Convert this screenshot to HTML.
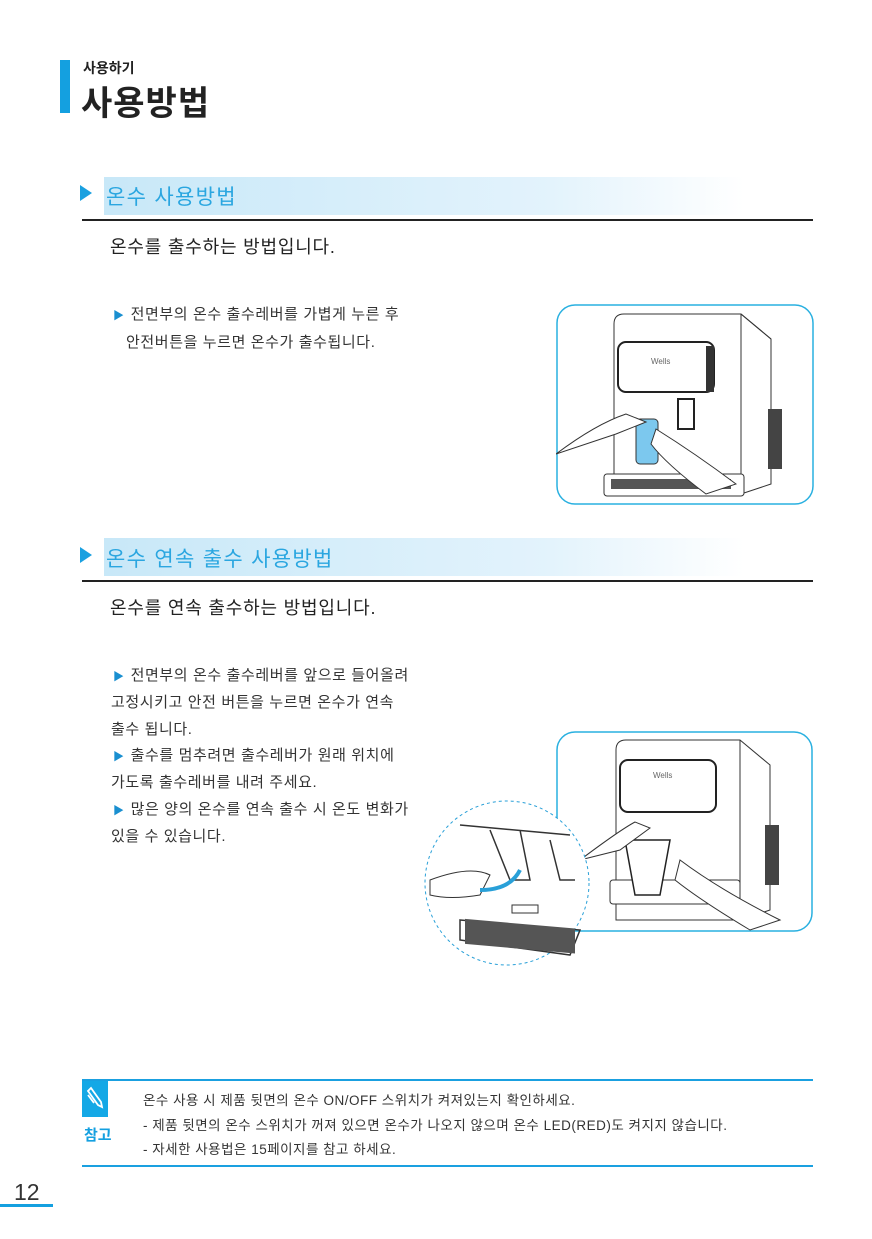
<!DOCTYPE html>
<html><head><meta charset="utf-8">
<style>
*{margin:0;padding:0;box-sizing:border-box}
body{width:872px;height:1239px;background:#fff;position:relative;overflow:hidden;font-family:"Liberation Sans","Noto Sans CJK KR","NanumGothic",sans-serif;color:#222}
.a{position:absolute;white-space:nowrap}
.band{position:absolute;left:104px;width:640px;height:38px;background:linear-gradient(90deg,#c8e8f8 0%,#e3f3fc 70%,#fff 100%)}
.tri{position:absolute;width:0;height:0;border-left:12px solid #1aa0e0;border-top:8px solid transparent;border-bottom:8px solid transparent}
.h2{font-size:21px;color:#2aa6e0;letter-spacing:1.3px}
.hr{position:absolute;left:82px;width:731px;height:2px;background:#222}
.sub{font-size:18px;color:#222;letter-spacing:0.8px}
.b{font-size:15px;color:#333;letter-spacing:0.6px}
.b i{font-style:normal;color:#1a8fd0;font-size:11px;margin-right:6px}
.n{font-size:13.5px;color:#333;letter-spacing:0.5px}
</style></head><body>
<div class="a" style="left:60px;top:60px;width:10px;height:53px;background:#14a0e0"></div>
<div class="a" style="left:83px;top:58px;font-size:14px;font-weight:bold">사용하기</div>
<div class="a" style="left:81px;top:76px;font-size:34px;font-weight:bold;letter-spacing:1px">사용방법</div>

<div class="band" style="top:177px"></div>
<div class="tri" style="left:80px;top:185px"></div>
<div class="a h2" style="left:106px;top:181px">온수 사용방법</div>
<div class="hr" style="top:219px"></div>
<div class="a sub" style="left:110px;top:233px">온수를 출수하는 방법입니다.</div>
<div class="a b" style="left:113px;top:303px"><i>▶</i>전면부의 온수 출수레버를 가볍게 누른 후</div>
<div class="a b" style="left:126px;top:331px">안전버튼을 누르면 온수가 출수됩니다.</div>

<svg class="a" style="left:556px;top:304px" width="258" height="201" viewBox="0 0 258 201">
<rect x="1" y="1" width="256" height="199" rx="18" fill="#fff" stroke="#29b0e0" stroke-width="1.5"/>
<path d="M58 190 V20 Q58 10 68 10 H185 L215 35 V180 L185 190 Z" fill="#fff" stroke="#333"/>
<path d="M185 10 L215 35 M185 10 V190" fill="none" stroke="#333"/>
<rect x="212" y="105" width="14" height="60" fill="#444"/>
<rect x="62" y="38" width="96" height="50" rx="8" fill="#fff" stroke="#222" stroke-width="2"/>
<rect x="150" y="42" width="8" height="46" fill="#333"/>
<text x="95" y="60" font-size="8" fill="#666">Wells</text>
<rect x="48" y="170" width="140" height="22" rx="3" fill="#fff" stroke="#333"/>
<rect x="55" y="175" width="120" height="10" fill="#555"/>
<rect x="80" y="115" width="22" height="45" rx="4" fill="#7cc8ee" stroke="#333"/>
<path d="M0 150 Q40 120 70 110 L90 118 L60 130 Z M100 125 Q140 150 180 180 L150 190 Q110 160 95 140 Z" fill="#fff" stroke="#333"/>
<rect x="122" y="95" width="16" height="30" fill="#fff" stroke="#222" stroke-width="2"/>
</svg>

<div class="band" style="top:538px"></div>
<div class="tri" style="left:80px;top:547px"></div>
<div class="a h2" style="left:106px;top:543px">온수 연속 출수 사용방법</div>
<div class="hr" style="top:580px"></div>
<div class="a sub" style="left:110px;top:594px">온수를 연속 출수하는 방법입니다.</div>
<div class="a b" style="left:113px;top:664px"><i>▶</i>전면부의 온수 출수레버를 앞으로 들어올려</div>
<div class="a b" style="left:111px;top:691px">고정시키고 안전 버튼을 누르면 온수가 연속</div>
<div class="a b" style="left:111px;top:718px">출수 됩니다.</div>
<div class="a b" style="left:113px;top:744px"><i>▶</i>출수를 멈추려면 출수레버가 원래 위치에</div>
<div class="a b" style="left:111px;top:771px">가도록 출수레버를 내려 주세요.</div>
<div class="a b" style="left:113px;top:798px"><i>▶</i>많은 양의 온수를 연속 출수 시 온도 변화가</div>
<div class="a b" style="left:111px;top:825px">있을 수 있습니다.</div>

<svg class="a" style="left:420px;top:730px" width="394" height="240" viewBox="0 0 394 240">
<rect x="137" y="2" width="255" height="199" rx="18" fill="#fff" stroke="#29b0e0" stroke-width="1.5"/>
<path d="M196 190 V20 Q196 10 206 10 H320 L350 35 V180 L320 190 Z" fill="#fff" stroke="#333"/>
<path d="M320 10 V190" stroke="#333"/>
<rect x="345" y="95" width="14" height="60" fill="#444"/>
<rect x="200" y="30" width="96" height="52" rx="8" fill="#fff" stroke="#222" stroke-width="2"/>
<text x="233" y="48" font-size="8" fill="#666">Wells</text>
<rect x="190" y="150" width="130" height="24" rx="3" fill="#fff" stroke="#333"/>
<path d="M205 110 L250 110 L240 165 L215 165 Z" fill="#fff" stroke="#222" stroke-width="1.5"/>
<path d="M160 130 Q200 100 215 92 L230 98 L200 120 Z M260 130 Q300 160 360 190 L330 200 Q280 170 255 150 Z" fill="#fff" stroke="#333"/>
<circle cx="87" cy="153" r="82" fill="#fff" stroke="#29a0d8" stroke-dasharray="3 3"/>
<path d="M40 95 L150 105 M70 100 L90 150 L110 150 L100 100 M130 110 L140 150 L155 150 M40 190 L160 200 L150 225 L40 210 Z" fill="none" stroke="#333" stroke-width="1.5"/>
<rect x="45" y="185" width="110" height="25" fill="#555" transform="skewY(5)"/>
<path d="M10 150 Q50 135 70 145 L60 165 Q30 170 10 165 Z" fill="#fff" stroke="#333"/>
<path d="M100 140 Q90 160 60 160" fill="none" stroke="#29a0d8" stroke-width="4"/>
<rect x="92" y="175" width="26" height="8" fill="#fff" stroke="#333"/>
</svg>

<div class="a" style="left:82px;top:1079px;width:731px;height:2px;background:#1aa0e0"></div>
<div class="a" style="left:82px;top:1081px;width:26px;height:36px;background:#14a8e6"></div>
<svg class="a" style="left:84px;top:1085px" width="22" height="28"><path d="M4 6 L14 20 L18 22 L17 17 L7 3 Z M4 10 L10 18" fill="none" stroke="#fff" stroke-width="1.8"/></svg>
<div class="a" style="left:84px;top:1124px;font-size:15px;font-weight:bold;color:#14a0e0">참고</div>
<div class="a n" style="left:143px;top:1089px">온수 사용 시 제품 뒷면의 온수 ON/OFF 스위치가 켜져있는지 확인하세요.</div>
<div class="a n" style="left:143px;top:1114px">- 제품 뒷면의 온수 스위치가 꺼져 있으면 온수가 나오지 않으며 온수 LED(RED)도 켜지지 않습니다.</div>
<div class="a n" style="left:143px;top:1138px">- 자세한 사용법은 15페이지를 참고 하세요.</div>
<div class="a" style="left:82px;top:1165px;width:731px;height:2px;background:#1aa0e0"></div>

<div class="a" style="left:14px;top:1179px;font-size:23px;color:#333">12</div>
<div class="a" style="left:0;top:1204px;width:53px;height:3px;background:#14a0e0"></div>
</body></html>
